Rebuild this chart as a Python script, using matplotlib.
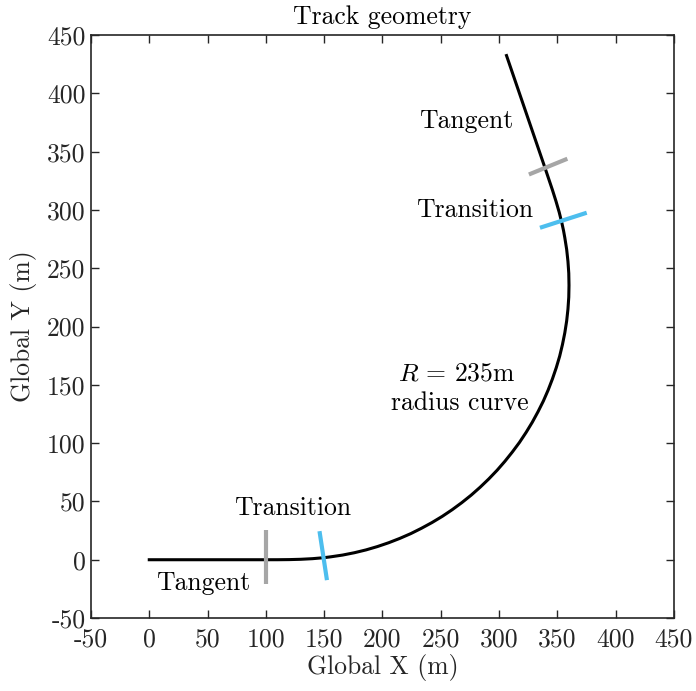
import matplotlib
matplotlib.use("Agg")
import matplotlib.pyplot as plt
import numpy as np

# fonts close to LaTeX look
plt.rcParams['font.family'] = 'serif'
plt.rcParams['font.serif'] = ['cmr10']
plt.rcParams['mathtext.fontset'] = 'cm'
plt.rcParams['axes.unicode_minus'] = False
plt.rcParams['axes.formatter.use_mathtext'] = False

# track centre line (m)
track_x = [0, 100, 110, 120, 130, 140, 150, 155.7, 165.8, 175.9, 185.8, 195.7, 205.4,
           214.9, 224.3, 233.5, 242.5, 251.3, 259.8, 268.1, 276.1, 283.8, 291.2, 298.3,
           305.0, 311.4, 317.5, 323.2, 328.5, 333.4, 338.0, 342.1, 345.8, 349.1, 352.0,
           354.4, 356.4, 358.0, 359.1, 359.8, 360.0, 359.8, 359.1, 358.0, 356.4, 355.3,
           354.0, 351.6, 348.8, 345.8, 342.6, 339.4, 306.4]
track_y = [0, 0, 0.01, 0.11, 0.38, 0.91, 1.77, 2.5, 4.0, 6.0, 8.4, 11.3, 14.6,
           18.3, 22.4, 27.0, 31.9, 37.2, 42.9, 49.0, 55.4, 62.2, 69.3, 76.7,
           84.4, 92.4, 100.6, 109.2, 117.9, 126.9, 136.1, 145.5, 155.1, 164.8, 174.6,
           184.6, 194.6, 204.8, 214.9, 225.2, 235.4, 245.7, 255.9, 266.1, 276.2, 282.3,
           288.3, 298.0, 307.6, 317.1, 326.6, 336.1, 432.4]

# section markers (start/end points)
tangent_marks_x = [[100, 100], [325.6, 358.6]]
tangent_marks_y = [[25.4, -21.0], [330.4, 343.9]]
transition_marks_x = [[146.0, 152.4], [335.1, 375.2]]
transition_marks_y = [[24.5, -17.5], [284.7, 297.6]]

labels = ["Tangent", "Transition", "Transition", "Tangent"]
label_x = [272, 279, 123, 46]
label_y = [376, 300, 44, -20]

ticks = np.arange(-50, 451, 50)

fig = plt.figure(figsize=(6.96, 6.91), dpi=100)
ax = fig.add_axes([0.1307, 0.1056, 0.8376, 0.8437])

ax.plot(track_x, track_y, color='k', lw=2.2, zorder=2)
for mx, my in zip(tangent_marks_x, tangent_marks_y):
    ax.plot(mx, my, color='#a6a6a6', lw=3, zorder=3, solid_capstyle='butt')
for mx, my in zip(transition_marks_x, transition_marks_y):
    ax.plot(mx, my, color='#4dbeee', lw=3, zorder=3, solid_capstyle='butt')

for t, x, y in zip(labels, label_x, label_y):
    ax.text(x, y, t, ha='center', va='center', fontsize=18.5)
ax.text(264, 160, r'$R\,=\,235$m', ha='center', va='center', fontsize=18.5)
ax.text(266, 134, 'radius curve', ha='center', va='center', fontsize=18.5)

ax.set_xlim(-50, 450)
ax.set_ylim(-50, 450)
ax.set_xticks(ticks)
ax.set_yticks(ticks)
ax.set_xticklabels([str(t) for t in ticks])
ax.set_yticklabels([str(t) for t in ticks])
ax.tick_params(direction='in', length=6, width=1, top=True, right=True,
               labelsize=18.5, colors='#262626')
ax.tick_params(axis='x', pad=7)
ax.tick_params(axis='y', pad=4)
for s in ax.spines.values():
    s.set_color('#262626')
    s.set_linewidth(1.2)

ax.set_title('Track geometry', fontsize=18.5, color='k', y=1.005)
ax.set_xlabel('Global X (m)', fontsize=18.5, color='#262626')
ax.set_ylabel('Global Y (m)', fontsize=18.5, color='#262626')
ax.xaxis.set_label_coords(0.5, -0.062)
ax.yaxis.set_label_coords(-0.093, 0.5)

fig.savefig('out.png', dpi=100)
